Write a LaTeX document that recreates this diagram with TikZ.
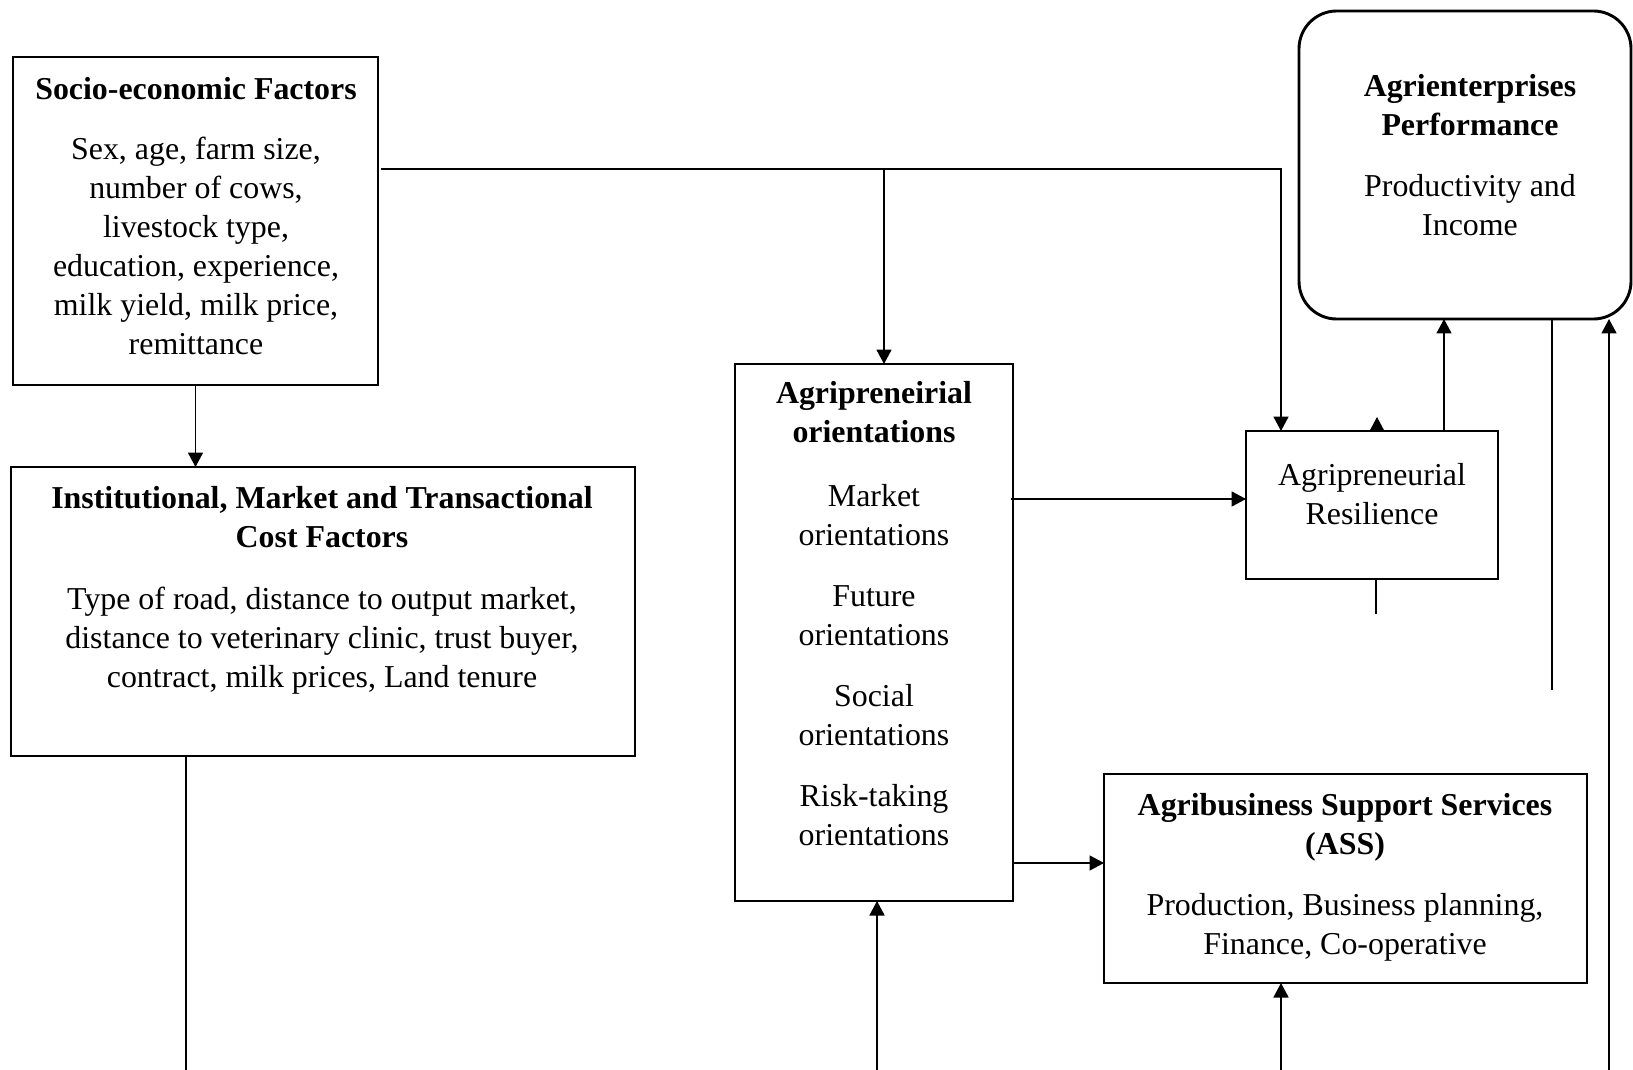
\documentclass[tikz,border=0pt]{standalone}
\usepackage{fontspec}
\setmainfont{Liberation Serif}
\usetikzlibrary{arrows.meta,calc,fit}
\begin{document}
\begin{tikzpicture}[x=0.345pt,y=-0.345pt,
  box/.style={draw,line width=1pt,inner sep=0pt,outer sep=0pt},
  txt/.style={align=center,font=\fontsize{11pt}{13.45pt}\selectfont,inner sep=0pt,
    execute at begin node=\strut,execute at end node=\strut},
  ttl/.style={txt,font=\fontsize{11pt}{13.45pt}\selectfont\bfseries},
  conn/.style={line width=0.5pt},
  arr/.style={conn,-{Triangle[length=5pt,width=5.2pt]}}]
\useasboundingbox (0,0) rectangle (1633,1070);

% boxes
\node[box,fit={(13,57) (378,385)}] (socio) {};
\node[box,fit={(11,467) (635,756)}] (inst) {};
\node[box,fit={(735,364) (1013,901)}] (orient) {};
\node[box,fit={(1246,431) (1498,579)}] (res) {};
\node[box,rounded corners=13pt,fit={(1299,11) (1631,319)}] (perf) {};
\node[box,fit={(1104,774) (1587,983)}] (ass) {};

% texts
\node[ttl] (sociot) at (196,92) {Socio-economic Factors};
\node[txt] (sociob) at (196,252) {Sex, age, farm size,\\number of cows,\\livestock type,\\education, experience,\\milk yield, milk price,\\remittance};
\node[ttl] (instt) at (322,523) {Institutional, Market and Transactional\\Cost Factors};
\node[txt] (instb) at (322,643) {Type of road, distance to output market,\\distance to veterinary clinic, trust buyer,\\contract, milk prices, Land tenure};
\node[ttl] (orientt) at (874,418) {Agripreneirial\\orientations};
\node[txt] (orientb) at (874,671) {Market\\orientations\\[7.6pt]Future\\orientations\\[7.6pt]Social\\orientations\\[7.6pt]Risk-taking\\orientations};
\node[txt] (rest) at (1372,500) {Agripreneurial\\Resilience};
\node[ttl] (perft) at (1470,110.5) {Agrienterprises\\Performance};
\node[txt] (perfb) at (1470,210.5) {Productivity and\\Income};
\node[ttl] (asst) at (1345,830) {Agribusiness Support Services\\(ASS)};
\node[txt] (assb) at (1345,930) {Production, Business planning,\\Finance, Co-operative};

% coordinates
\coordinate (sstart) at ($(socio.north east)+(3,112)$);
\coordinate (resin1) at ($(res.north west)+(35,0)$);
\coordinate (junc) at (884,169);
\coordinate (resin2) at ($(res.west)+(0,-6)$);
\coordinate (assin) at ($(ass.west)+(0,-15.5)$);
\coordinate (resout) at ($(res.north west)+(198,0)$);
\coordinate (restick) at ($(res.north)+(5,0)$);
\coordinate (resbot) at ($(res.south)+(4,0)$);
\coordinate (resbotend) at ($(res.south)+(4,35)$);
\coordinate (perfbot) at ($(perf.south east)+(-79,0)$);
\coordinate (perfbotend) at ($(perf.south east)+(-79,371)$);
\coordinate (rightbot) at (1609,1070);
\coordinate (instbotend) at (186,1070);
\coordinate (orientbot) at (877,1070);
\coordinate (assbot) at (1281,1070);

% connectors
\draw[arr] (socio.south) -- (socio.south |- inst.north);
\draw[arr] (sstart) -| (resin1);
\draw[arr] (junc) -- (junc |- orient.north);
\draw[arr] ($(orient.east |- resin2)+(-2,0)$) -- (resin2);
\draw[arr] (orient.east |- assin) -- (assin);
\draw[arr] (resout) -- (resout |- perf.south);
\draw[arr] (restick) -- ++(0,-14);
\draw[conn] (resbot) -- (resbotend);
\draw[conn] (perfbot) -- (perfbotend);
\draw[arr] (rightbot) -- (rightbot |- perf.south);
\draw[conn] (instbotend |- inst.south) -- (instbotend);
\draw[arr] (orientbot) -- (orientbot |- orient.south);
\draw[arr] (assbot) -- (assbot |- ass.south);
\end{tikzpicture}
\end{document}
